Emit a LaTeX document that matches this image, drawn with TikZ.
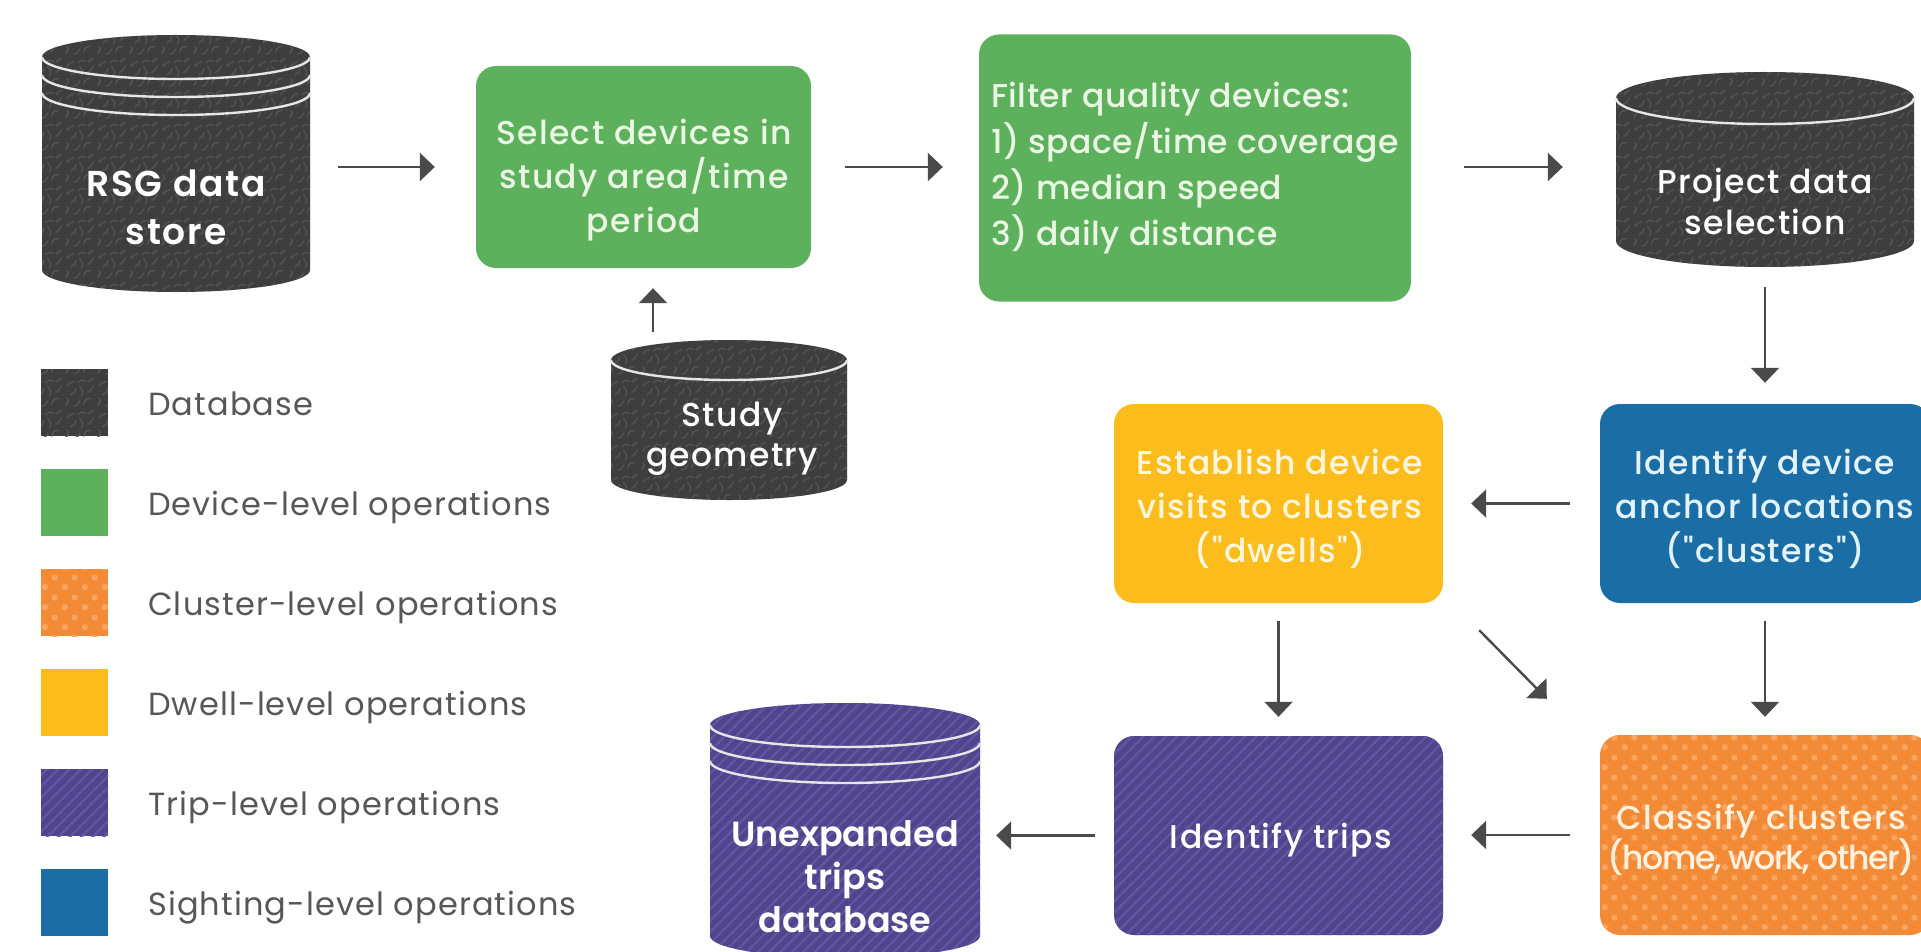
\documentclass[tikz,border=0pt]{standalone}
\usepackage{fontspec}
\setmainfont{Poppins}
\newfontfamily\medfont{Poppins Medium}[LetterSpace=4]
\newfontfamily\medfontn{Poppins Medium}[LetterSpace=1.5]
\newfontfamily\sbfont{Poppins SemiBold}
\usetikzlibrary{arrows.meta,patterns.meta,calc}

\definecolor{dbgray}{HTML}{3E3E3E}
\definecolor{dbtex}{HTML}{535353}
\definecolor{devgreen}{HTML}{5DB15C}
\definecolor{clorange}{HTML}{F38A36}
\definecolor{cldots}{HTML}{F7A561}
\definecolor{dwyellow}{HTML}{FBBC1C}
\definecolor{trpurple}{HTML}{50448C}
\definecolor{trstripe}{HTML}{6154A2}
\definecolor{sgblue}{HTML}{1B6EA5}
\definecolor{legtext}{HTML}{575757}
\definecolor{arrgray}{HTML}{4A4A4A}
\definecolor{rimcol}{HTML}{E6E6E6}
\definecolor{gtext}{HTML}{EAF7E4}
\definecolor{ytext}{HTML}{FFF6DE}
\definecolor{btext}{HTML}{E3F3FB}
\definecolor{otext}{HTML}{FFF2E0}

\tikzdeclarepattern{
  name=squig,
  type=uncolored,
  bounding box={(0pt,0pt) and (32pt,32pt)},
  tile size={(32pt,32pt)},
  code={
    \draw[line width=1.5pt,line cap=round] (2pt,3pt) .. controls (5pt,6pt) .. (3pt,10pt);
    \draw[line width=1.5pt,line cap=round] (10pt,2pt) .. controls (14pt,3pt) .. (16pt,7pt);
    \draw[line width=1.5pt,line cap=round] (20pt,4pt) .. controls (22pt,9pt) .. (27pt,10pt);
    \draw[line width=1.5pt,line cap=round] (7pt,14pt) .. controls (11pt,15pt) .. (12pt,20pt);
    \draw[line width=1.5pt,line cap=round] (18pt,13pt) .. controls (20pt,17pt) .. (16pt,22pt);
    \draw[line width=1.5pt,line cap=round] (24pt,16pt) .. controls (28pt,18pt) .. (30pt,23pt);
    \draw[line width=1.5pt,line cap=round] (3pt,22pt) .. controls (6pt,26pt) .. (10pt,27pt);
    \draw[line width=1.5pt,line cap=round] (14pt,26pt) .. controls (18pt,29pt) .. (22pt,27pt);
    \draw[line width=1.5pt,line cap=round] (25pt,26pt) .. controls (27pt,29pt) .. (30pt,30pt);
  }
}
\tikzdeclarepattern{
  name=odots,
  type=uncolored,
  bounding box={(0pt,0pt) and (20pt,20pt)},
  tile size={(20pt,20pt)},
  code={
    \fill (5pt,5pt) circle (3.3pt);
    \fill (15pt,15pt) circle (3.3pt);
  }
}

\tikzset{
  arr/.style={line width=2.4pt, draw=arrgray, -{Triangle[length=15pt,width=28pt]}},
  boxbase/.style={rectangle, rounded corners=20pt, inner sep=0pt, align=center,
    font=\medfont\fontsize{33}{44}\selectfont},
  devbox/.style={boxbase, fill=devgreen, text=gtext},
  dwbox/.style={boxbase, fill=dwyellow, text=ytext},
  sgbox/.style={boxbase, fill=sgblue, text=btext},
  trbox/.style={boxbase, fill=trpurple, text=white,
    postaction={pattern={Lines[angle=45,distance=8pt,line width=2.4pt]}, pattern color=trstripe}},
  clbox/.style={boxbase, fill=clorange, text=otext,
    postaction={pattern=odots, pattern color=cldots}},
  dbfill/.style={fill=dbgray, postaction={pattern=squig, pattern color=dbtex}},
  trfill/.style={fill=trpurple, postaction={pattern={Lines[angle=45,distance=8pt,line width=2.4pt]}, pattern color=trstripe}},
  rim/.style={draw=rimcol, line width=2.4pt},
  cylarea/.style={rectangle, inner sep=0pt, draw=none},
  dbtext/.style={align=center, text=white, inner sep=0pt},
  boxtext/.style={align=center, inner sep=0pt, font=\medfont\fontsize{33}{44}\selectfont},
  legsq/.style={rectangle, inner sep=0pt, minimum width=67pt, minimum height=67pt},
  legtxt/.style={anchor=base west, inner sep=0pt, text=legtext,
    font=\addfontfeature{LetterSpace=3.5}\fontsize{32}{36}\selectfont},
}

\newcommand\drawcyl[7]{%
  \pgfmathsetmacro\cyL{#1-#4}%
  \pgfmathsetmacro\cyR{#1+#4}%
  \pgfmathsetmacro\cyT{#2+#5}%
  \pgfmathsetmacro\cyB{#3-#5}%
  \pgfmathsetmacro\kx{0.5523*#4}%
  \pgfmathsetmacro\ky{0.5523*#5}%
  \path[#6] (\cyL,\cyT) -- (\cyL,\cyB)
    .. controls (\cyL,\cyB+\ky) and (#1-\kx,\cyB+#5) .. (#1,\cyB+#5)
    .. controls (#1+\kx,\cyB+#5) and (\cyR,\cyB+\ky) .. (\cyR,\cyB)
    -- (\cyR,\cyT)
    .. controls (\cyR,\cyT-\ky) and (#1+\kx,\cyT-#5) .. (#1,\cyT-#5)
    .. controls (#1-\kx,\cyT-#5) and (\cyL,\cyT-\ky) .. (\cyL,\cyT) -- cycle;
  \foreach \d in {0,...,#7}{%
    \draw[rim] (\cyL,\cyT+\d*18)
      .. controls (\cyL,\cyT+\d*18+\ky) and (#1-\kx,\cyT+\d*18+#5) .. (#1,\cyT+\d*18+#5)
      .. controls (#1+\kx,\cyT+\d*18+#5) and (\cyR,\cyT+\d*18+\ky) .. (\cyR,\cyT+\d*18);
  }%
}

\begin{document}
\begin{tikzpicture}[x=1pt,y=-1pt]
\useasboundingbox (0,0) rectangle (1921,952);
\fill[white] (0,0) rectangle (1921,952);

% ---------- cylinders (databases) ----------
\drawcyl{176}{35}{292}{134}{22}{dbfill}{2}
\node[cylarea, minimum width=268pt, minimum height=257pt] (rsg) at (176,163.5) {};
\node[dbtext, font=\sbfont\addfontfeature{LetterSpace=5}\fontsize{36}{48}\selectfont] (rsgt) at (176,207) {RSG data\\store};

\drawcyl{1765}{72}{267}{149}{26}{dbfill}{0}
\node[cylarea, minimum width=298pt, minimum height=195pt] (proj) at (1765,169.5) {};
\node[dbtext, font=\medfont\fontsize{33}{41}\selectfont] (projt) at (1765,201) {Project data\\selection};

\drawcyl{729}{340}{500}{118}{20}{dbfill}{0}
\node[cylarea, minimum width=236pt, minimum height=160pt] (study) at (729,420) {};
\node[dbtext, font=\medfont\fontsize{33}{40}\selectfont] (studyt) at (732,439) {Study\\geometry};

\drawcyl{845}{703}{958}{135}{22}{trfill}{2}
\node[cylarea, minimum width=270pt, minimum height=255pt] (unexp) at (845,830.5) {};
\node[dbtext, font=\sbfont\fontsize{35}{43}\selectfont] (unext) at (845,877) {Unexpanded\\trips\\database};

% ---------- operation boxes ----------
\node[devbox, minimum width=335pt, minimum height=202pt] (sel) at (643.5,167) {};
\node[boxtext, text=gtext] (selt) at (644,180)
  {Select devices in\\study area/time\\period};
\node[devbox, align=left, minimum width=432pt, minimum height=267pt,
  font=\medfontn\fontsize{33}{46}\selectfont] (filt) at (1195,168)
  {Filter quality devices:\\1) space/time coverage\\2) median speed\\3) daily distance};
\node[dwbox, minimum width=329pt, minimum height=199pt] (yel) at (1278.5,503.5) {};
\node[boxtext, text=ytext] (yelt) at (1280,509)
  {Establish device\\visits to clusters\\("dwells")};
\node[sgbox, minimum width=330pt, minimum height=199pt] (blue) at (1765,503.5) {};
\node[boxtext, text=btext] (bluet) at (1765,509)
  {Identify device\\anchor locations\\("clusters")};
\node[trbox, minimum width=329pt, minimum height=199pt] (trips) at (1278.5,835.5) {};
\node[boxtext, text=white] (tript) at (1281,840) {Identify trips};
\node[clbox, minimum width=330pt, minimum height=200pt] (cls) at (1765,835) {};
\node[boxtext, text=otext, font=\medfont\fontsize{33}{35}\selectfont] (clst) at (1761,840)
  {Classify clusters\\{\addfontfeature{LetterSpace=-4}(home, work, other)}};

% ---------- connectors ----------
\draw[arr, shorten <=28pt, shorten >=41pt] (rsg.east |- sel.west) -- (sel.west);
\draw[arr, shorten <=34pt, shorten >=36pt] (sel.east) -- (sel.east -| filt.west);
\draw[arr, shorten <=53pt, shorten >=53pt] (filt.east |- sel.east) -- (sel.east -| proj.west);
\draw[arr, shorten <=20pt, shorten >=21pt] (proj.south) -- (proj.south |- blue.north);
\draw[arr, shorten <=30pt, shorten >=28pt] (blue.west) -- (blue.west -| yel.east);
\draw[arr, shorten <=18pt, shorten >=19pt] (yel.south) -- (yel.south |- trips.north);
\draw[arr] ($(yel.south east)+(36,27)$) -- ($(cls.north west)+(-53,-36)$);
\draw[arr, shorten <=18pt, shorten >=18pt] (blue.south) -- (blue.south |- cls.north);
\draw[arr, shorten <=30pt, shorten >=28pt] (cls.west) -- (cls.west -| trips.east);
\draw[arr, shorten <=19pt, shorten >=16pt] (trips.west) -- (trips.west -| unexp.east);
\draw[arr, shorten <=8pt, shorten >=20pt] ([xshift=-76pt]study.north) -- ([xshift=-76pt]study.north |- sel.south);

% ---------- legend ----------
\node[legsq, dbfill] (lgdb) at (74.5,402.5) {};
\node[legtxt] (lgdbt) at (148,415) {Database};
\node[legsq, fill=devgreen] (lgdev) at (74.5,502.5) {};
\node[legtxt] (lgdevt) at (148,515) {Device-level operations};
\node[legsq, fill=clorange, postaction={pattern=odots, pattern color=cldots}] (lgcl) at (74.5,602.5) {};
\node[legtxt] (lgclt) at (148,615) {Cluster-level operations};
\node[legsq, fill=dwyellow] (lgdw) at (74.5,702.5) {};
\node[legtxt] (lgdwt) at (148,715) {Dwell-level operations};
\node[legsq, trfill] (lgtr) at (74.5,802.5) {};
\node[legtxt] (lgtrt) at (148,815) {Trip-level operations};
\node[legsq, fill=sgblue] (lgsg) at (74.5,902.5) {};
\node[legtxt] (lgsgt) at (148,915) {Sighting-level operations};
\end{tikzpicture}
\end{document}
